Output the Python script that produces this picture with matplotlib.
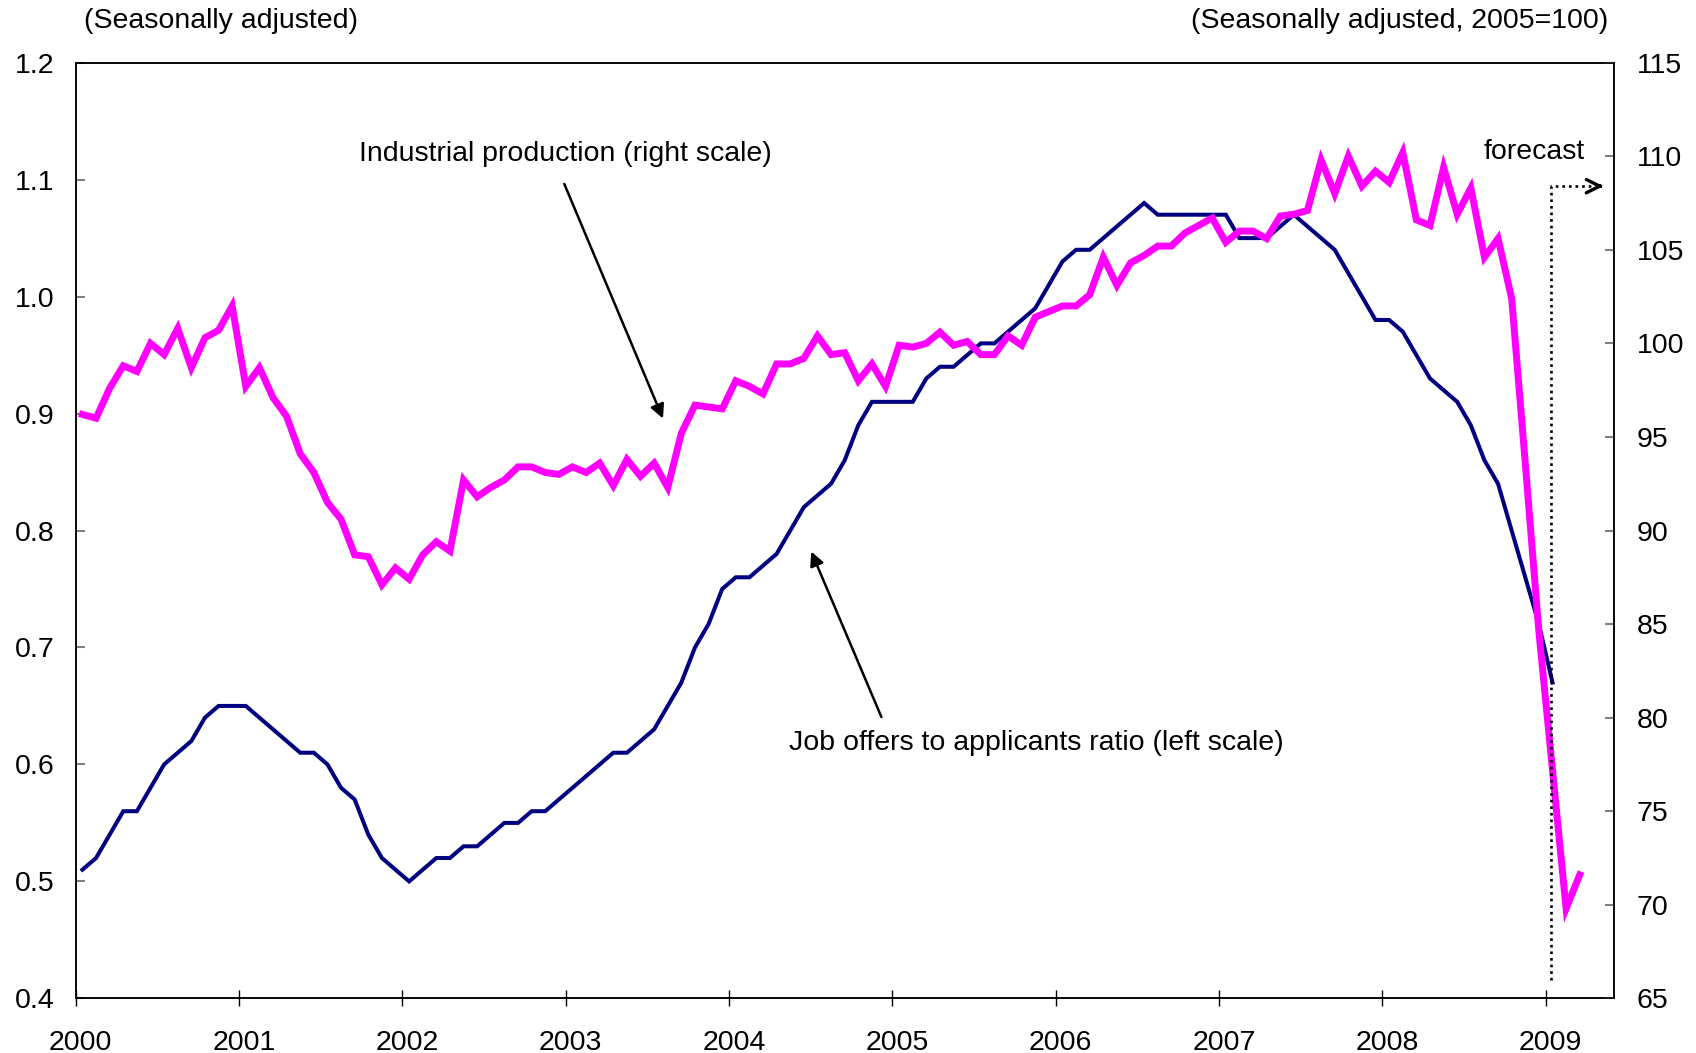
import numpy as np
import matplotlib
matplotlib.use('Agg')
import matplotlib.pyplot as plt
from matplotlib.ticker import FormatStrFormatter
from matplotlib.transforms import ScaledTranslation

plt.rcParams['font.family'] = ['Liberation Sans', 'DejaVu Sans']

# ---------------- data (monthly, Jan 2000 onwards) ----------------
years = [str(y) for y in range(2000, 2010)]
n_months = 113  # Jan 2000 .. May 2009 (category axis)

job_ratio = [
    0.51, 0.52, 0.54, 0.56, 0.56, 0.58, 0.60, 0.61, 0.62, 0.64, 0.65, 0.65,   # 2000
    0.65, 0.64, 0.63, 0.62, 0.61, 0.61, 0.60, 0.58, 0.57, 0.54, 0.52, 0.51,   # 2001
    0.50, 0.51, 0.52, 0.52, 0.53, 0.53, 0.54, 0.55, 0.55, 0.56, 0.56, 0.57,   # 2002
    0.58, 0.59, 0.60, 0.61, 0.61, 0.62, 0.63, 0.65, 0.67, 0.70, 0.72, 0.75,   # 2003
    0.76, 0.76, 0.77, 0.78, 0.80, 0.82, 0.83, 0.84, 0.86, 0.89, 0.91, 0.91,   # 2004
    0.91, 0.91, 0.93, 0.94, 0.94, 0.95, 0.96, 0.96, 0.97, 0.98, 0.99, 1.01,   # 2005
    1.03, 1.04, 1.04, 1.05, 1.06, 1.07, 1.08, 1.07, 1.07, 1.07, 1.07, 1.07,   # 2006
    1.07, 1.05, 1.05, 1.05, 1.06, 1.07, 1.06, 1.05, 1.04, 1.02, 1.00, 0.98,   # 2007
    0.98, 0.97, 0.95, 0.93, 0.92, 0.91, 0.89, 0.86, 0.84, 0.80, 0.76, 0.72,   # 2008
    0.67,                                                                     # 2009
]

ind_prod = [
    96.2, 96.0, 97.6, 98.8, 98.5, 100.0, 99.4, 100.8, 98.7, 100.3, 100.7, 102.0,   # 2000
    97.7, 98.7, 97.1, 96.1, 94.1, 93.1, 91.5, 90.6, 88.7, 88.6, 87.1, 88.0,        # 2001
    87.4, 88.7, 89.4, 88.9, 92.7, 91.8, 92.3, 92.7, 93.4, 93.4, 93.1, 93.0,        # 2002
    93.4, 93.1, 93.6, 92.4, 93.8, 92.9, 93.6, 92.3, 95.2, 96.7, 96.6, 96.5,        # 2003
    98.0, 97.7, 97.3, 98.9, 98.9, 99.2, 100.4, 99.4, 99.5, 98.0, 98.9, 97.7,       # 2004
    99.9, 99.8, 100.0, 100.6, 99.9, 100.1, 99.4, 99.4, 100.4, 99.9, 101.4, 101.7,  # 2005
    102.0, 102.0, 102.6, 104.6, 103.1, 104.3, 104.7, 105.2, 105.2, 105.9, 106.3, 106.7,  # 2006
    105.4, 106.0, 106.0, 105.6, 106.8, 106.9, 107.1, 109.8, 108.0, 110.0, 108.4, 109.2,  # 2007
    108.6, 110.2, 106.6, 106.3, 109.4, 106.9, 108.3, 104.6, 105.6, 102.4, 93.6, 84.6,    # 2008
    77.2, 69.8, 71.6,                                                                    # 2009 (Feb-Mar forecast)
]

left_ticks = [0.4, 0.5, 0.6, 0.7, 0.8, 0.9, 1.0, 1.1, 1.2]
right_ticks = [65, 70, 75, 80, 85, 90, 95, 100, 105, 110, 115]

# ---------------- figure ----------------
fig = plt.figure(figsize=(16.96, 10.53), dpi=100)
ax = fig.add_axes([0.0446, 0.0519, 0.9069, 0.8886])
ax2 = ax.twinx()

x_job = np.arange(len(job_ratio)) + 0.5
x_ip = np.arange(len(ind_prod)) + 0.5

ax.plot(x_job, job_ratio, color='#000080', lw=2.9, solid_joinstyle='miter')
ax2.plot(x_ip, ind_prod, color='#FF00FF', lw=5.0, solid_joinstyle='miter')

ax.set_xlim(0, n_months)
ax.set_ylim(left_ticks[0], left_ticks[-1])
ax2.set_ylim(right_ticks[0], right_ticks[-1])

ax.set_xticks(np.arange(0, 12 * len(years), 12))
ax.set_xticklabels(years)
ax.set_yticks(left_ticks)
ax.yaxis.set_major_formatter(FormatStrFormatter('%.1f'))
ax2.set_yticks(right_ticks)

fs = 20.5
ax.tick_params(axis='x', direction='inout', length=12, width=1.0, color='black',
               labelsize=fs, pad=16.5)
ax.tick_params(axis='y', direction='in', length=6.5, width=1.5, color='#808080',
               labelsize=fs, pad=15)
ax2.tick_params(axis='y', direction='in', length=6.5, width=1.5, color='#808080',
                labelsize=fs, pad=16.5)

# small rightward shift of the year labels, as in the original
shift = ScaledTranslation(5 / 100, 0, fig.dpi_scale_trans)
for lab in ax.get_xticklabels():
    lab.set_transform(lab.get_transform() + shift)

for a in (ax, ax2):
    for s in a.spines.values():
        s.set_linewidth(1.1)
        s.set_color('black')

# axis unit labels
fig.text(84 / 1696, 1 - 21.5 / 1053, '(Seasonally adjusted)', ha='left', va='center', fontsize=fs)
fig.text(1608 / 1696, 1 - 21.5 / 1053, '(Seasonally adjusted, 2005=100)', ha='right', va='center', fontsize=fs)

# annotations
arrow_kw = dict(arrowstyle='-|>', color='black', lw=1.8, mutation_scale=21, shrinkA=0, shrinkB=0)
ax.text(35.95, 1.1222, 'Industrial production (right scale)', ha='center', va='center', fontsize=fs)
ax.annotate('', xy=(43.15, 0.8957), xytext=(35.9, 1.0963), arrowprops=arrow_kw)
ax.text(70.57, 0.6187, 'Job offers to applicants ratio (left scale)', ha='center', va='center', fontsize=fs)
ax.annotate('', xy=(54.04, 0.782), xytext=(59.2, 0.6405), arrowprops=arrow_kw)

# forecast marker
ax.text(110.85, 1.1234, 'forecast', ha='right', va='center', fontsize=fs)
ax2.plot([108.4, 108.4, 111.9], [66.0, 108.4, 108.4], color='black', lw=1.9,
         linestyle=(0, (1.0, 1.5)), zorder=5)
ax2.annotate('', xy=(112.24, 108.4), xytext=(111.95, 108.4),
             arrowprops=dict(arrowstyle='->', color='black', lw=2.4, mutation_scale=24,
                             shrinkA=0, shrinkB=0), zorder=5)

fig.savefig('out.png', dpi=100)
